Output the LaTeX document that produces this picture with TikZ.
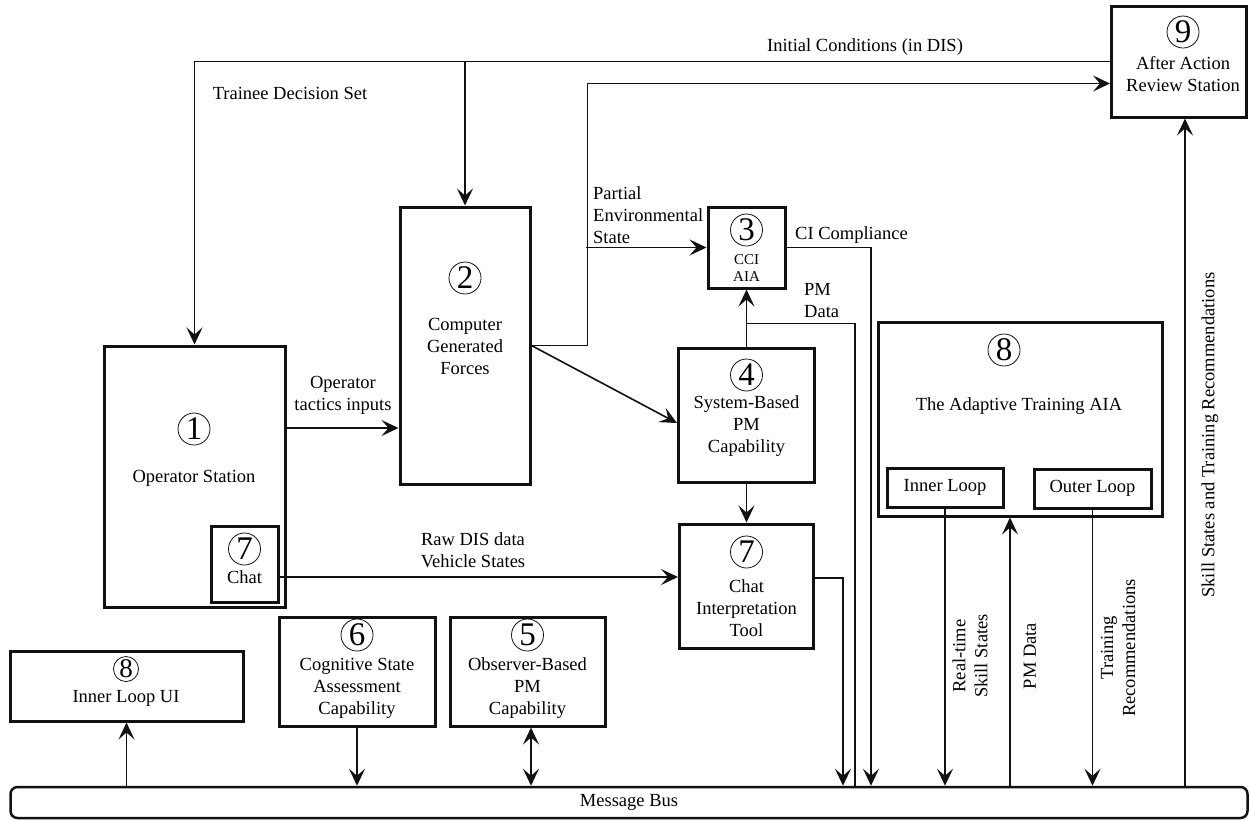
\documentclass[tikz,border=0pt]{standalone}
\usepackage{fontspec}
\setmainfont{Liberation Serif}
\usepackage{tikz}
\usetikzlibrary{arrows.meta}
\definecolor{ink}{HTML}{111111}
\tikzset{
  blk/.style={rectangle,draw=ink,line width=3pt},
  bus/.style={rectangle,rounded corners=7pt,draw=ink,line width=2.5pt},
  num/.style={circle,draw=ink,line width=0.8pt,inner sep=0pt,minimum size=32pt,font=\fontsize{33}{33}\selectfont},
  lbl/.style={align=center,inner sep=0pt},
  arr/.style={-{Stealth[length=17pt,width=16pt,inset=7pt]},line width=1.6pt,draw=ink},
  darr/.style={{Stealth[length=17pt,width=16pt,inset=7pt]}-{Stealth[length=17pt,width=16pt,inset=7pt]},line width=1.6pt,draw=ink},
  wire/.style={line width=1.6pt,draw=ink}
}

\begin{document}
\begin{tikzpicture}[x=1pt,y=-1pt,font=\fontsize{18.5}{22}\selectfont]
\useasboundingbox (0,0) rectangle (1250,820);
\node[blk,minimum width=181pt,minimum height=261pt] (os) at (194.5,476.5) {};
\node[blk,minimum width=67pt,minimum height=76pt] (chat) at (244.5,564) {};
\node[blk,minimum width=130pt,minimum height=277pt] (cgf) at (465,345.5) {};
\node[blk,minimum width=77pt,minimum height=81pt] (cci) at (746.5,247.5) {};
\node[blk,minimum width=136pt,minimum height=134pt] (sbpm) at (746.5,415) {};
\node[blk,minimum width=134pt,minimum height=124pt] (cit) at (746.5,586) {};
\node[blk,minimum width=284pt,minimum height=194pt] (ata) at (1020,419) {};
\node[blk,minimum width=116pt,minimum height=39pt] (inner) at (945,487.5) {Inner Loop};
\node[blk,minimum width=117pt,minimum height=39pt] (outer) at (1092.5,488.5) {Outer Loop};
\node[blk,minimum width=135pt,minimum height=111pt] (aar) at (1179,61.5) {};
\node[blk,minimum width=233pt,minimum height=70pt] (ilui) at (126.5,686) {};
\node[blk,minimum width=156pt,minimum height=109pt] (csa) at (357,671.5) {};
\node[blk,minimum width=155pt,minimum height=109pt] (obpm) at (527.5,671.5) {};
\node[bus,minimum width=1237pt,minimum height=31pt] (bus) at (629,802.5) {Message Bus};

\node[num] (n1) at (194,429) {1};
\node[lbl] (t1) at (194,478) {Operator Station};
\node[num] (n7a) at (244.5,549) {7};
\node[lbl] (t7a) at (244.5,577) {Chat};
\node[num] (n2) at (465,278) {2};
\node[lbl] (t2) at (465,346) {Computer\\Generated\\Forces};
\node[num] (n3) at (746.5,230) {3};
\node[lbl,font=\fontsize{15}{17}\selectfont] (t3) at (746.5,268) {CCI\\AIA};
\node[num] (n4) at (746.5,375) {4};
\node[lbl] (t4) at (746.5,426) {System-Based\\PM\\Capability};
\node[num] (n7b) at (746.5,552) {7};
\node[lbl] (t7b) at (746.5,608) {Chat\\Interpretation\\Tool};
\node[num] (n8) at (1004,350) {8};
\node[lbl] (t8) at (1019,406) {The Adaptive Training AIA};
\node[num] (n9) at (1183,32) {9};
\node[lbl] (t9) at (1183,74) {After Action\\Review Station};
\node[num,minimum size=25pt,font=\fontsize{27}{27}\selectfont] (n8b) at (126,669) {8};
\node[lbl] (t8b) at (126,698) {Inner Loop UI};
\node[num] (n6) at (357,635) {6};
\node[lbl] (t6) at (357,688) {Cognitive State\\Assessment\\Capability};
\node[num] (n5) at (527.5,635) {5};
\node[lbl] (t5) at (527.5,688) {Observer-Based\\PM\\Capability};

\node[lbl] (l1) at (865,47) {Initial Conditions (in DIS)};
\node[lbl] (l2) at (290,93) {Trainee Decision Set};
\node[lbl,anchor=west,align=left] (l3) at (593,215) {Partial\\Environmental\\State};
\node[lbl,anchor=west] (l4) at (795,235) {CI Compliance};
\node[lbl,anchor=west,align=left] (l5) at (804,301) {PM\\Data};
\node[lbl] (l6) at (343,395) {Operator\\tactics inputs};
\node[lbl] (l7) at (473,550) {Raw DIS data\\Vehicle States};
\node[lbl,rotate=90] (l8) at (970,656) {Real-time\\Skill States};
\node[lbl,rotate=90] (l9) at (1030,656) {PM Data};
\node[lbl,rotate=90] (l10) at (1118,648) {Training\\Recommendations};
\node[lbl,rotate=90] (l11) at (1210,435) {Skill States and Training Recommendations};

\draw[arr] (aar.west) -| (os.north);
\draw[arr] (cgf.north |- aar.west) -- (cgf.north);
\draw[arr] (cgf.east) -- ++(56,0) |- ([yshift=-22pt]aar.west);
\draw[arr] (586,0 |- cci.west) -- (cci.west);
\draw[arr] (cgf.east) -- ([yshift=-8pt]sbpm.west);
\draw[arr] ([yshift=48.5pt]os.east) -- ([yshift=48.5pt]os.east -| cgf.west);
\draw[arr] ([yshift=-13pt]chat.east) -- ([yshift=-13pt]chat.east -| cit.west);
\draw[arr] (sbpm.north) -- (cci.south);
\draw[wire] ([yshift=23pt]sbpm.north) -| (855,0 |- bus.north);
\draw[arr] (cci.east) -| (871,0 |- bus.north);
\draw[arr] (sbpm.south) -- (cit.north);
\draw[arr] ([yshift=8pt]cit.east) -| (843,0 |- bus.north);
\draw[arr] (inner.south) -- (inner.south |- bus.north);
\draw[arr] (1010,0 |- bus.north) -- (1010,0 |- ata.south);
\draw[arr] (outer.south) -- (outer.south |- bus.north);
\draw[arr] (1185,0 |- bus.north) -- (1185,0 |- aar.south);
\draw[arr] (ilui.south |- bus.north) -- (ilui.south);
\draw[arr] (csa.south) -- (csa.south |- bus.north);
\draw[darr] (531,0 |- obpm.south) -- (531,0 |- bus.north);
\end{tikzpicture}
\end{document}
